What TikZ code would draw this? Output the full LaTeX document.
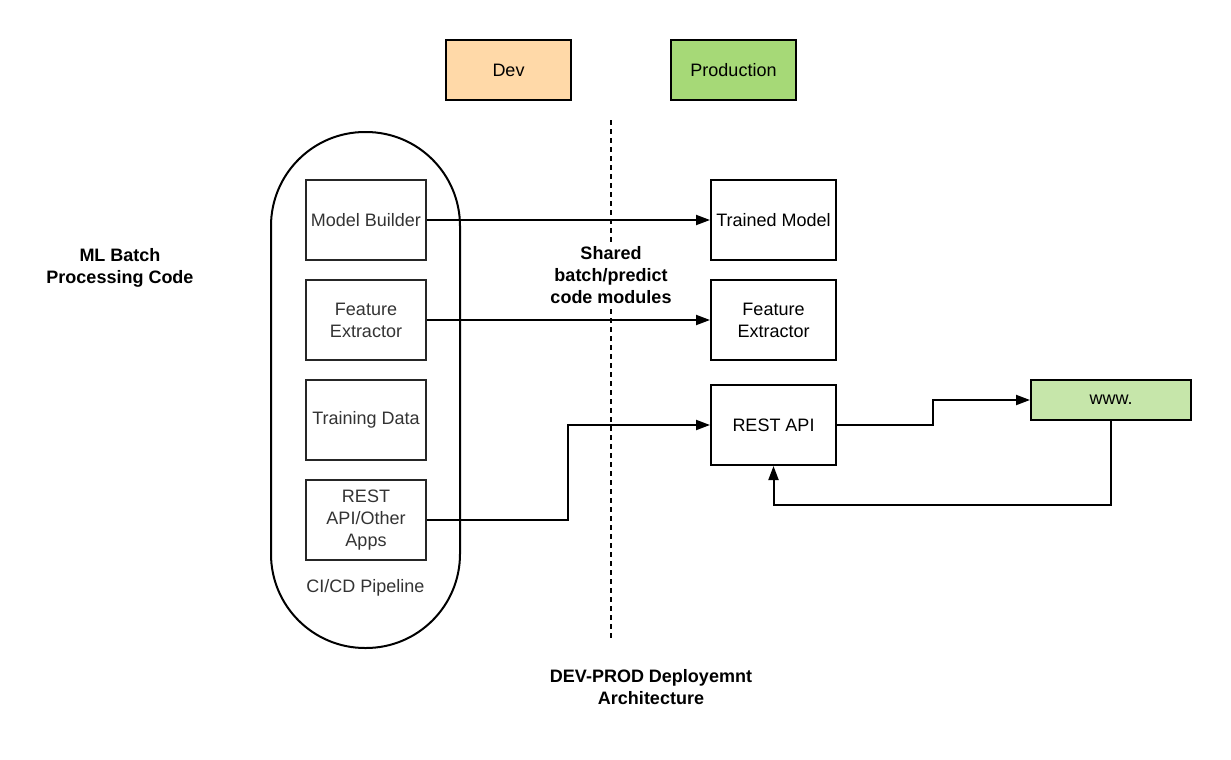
\documentclass[tikz,border=0pt]{standalone}
\usepackage{fontspec}
\setmainfont{Liberation Sans}
\usetikzlibrary{arrows.meta,calc}
\definecolor{devfill}{HTML}{FFD9A8}
\definecolor{prodfill}{HTML}{A6D977}
\definecolor{wwwfill}{HTML}{C6E6AA}
\definecolor{txtgray}{HTML}{333333}
\tikzset{
  txt/.style={font=\fontsize{9pt}{11pt}\selectfont, align=center},
  btxt/.style={font=\fontsize{9pt}{11pt}\selectfont\bfseries, align=center},
  leftbox/.style={txt, draw=black!85, line width=0.75pt, text=txtgray, minimum width=60pt, minimum height=40pt, inner sep=1pt},
  rightbox/.style={txt, draw=black, line width=1pt, minimum width=62.5pt, minimum height=40pt, inner sep=1pt},
  topbox/.style={txt, draw=black, line width=1pt, minimum width=62.5pt, minimum height=30pt},
  conn/.style={line width=1pt, -{Triangle[length=7pt,width=5pt]}},
}
\begin{document}
\begin{tikzpicture}[x=0.5pt, y=-0.5pt]
\useasboundingbox (0,0) rectangle (1231,760);
% header boxes
\node[topbox, fill=devfill] (dev) at (508.5,70) {Dev};
\node[topbox, fill=prodfill] (prod) at (733.5,70) {Production};
% dashed divider
\coordinate (d1) at (611,120);
\coordinate (d2) at (611,640);
\draw[line width=0.9pt, dash pattern=on 2.5pt off 2pt] (d1) -- (d2);
% pipeline stadium
\node[draw=black, line width=1pt, minimum width=94.5pt, minimum height=258pt, rounded corners=47pt] (pipe) at (365.5,390) {};
\node[txt, text=txtgray] (cicd) at (365.5,588) {CI/CD Pipeline};
% left boxes
\node[leftbox] (mb) at (366,220) {Model Builder};
\node[leftbox] (fe1) at (366,320) {Feature\\Extractor};
\node[leftbox] (td) at (366,420) {Training Data};
\node[leftbox] (rest1) at (366,520) {REST\\API/Other\\Apps};
% right boxes
\node[rightbox] (tm) at (773.5,220) {Trained Model};
\node[rightbox] (fe2) at (773.5,320) {Feature\\Extractor};
\node[rightbox] (rest2) at (773.5,425) {REST API};
\node[txt, draw=black, line width=1pt, fill=wwwfill, minimum width=80pt, minimum height=20pt] (www) at (1111,400) {www.};
% labels
\node[btxt, fill=white, inner sep=1pt] (shared) at (611,275) {Shared\\batch/predict\\code modules};
\node[btxt] (ml) at (120,267.5) {ML Batch\\Processing Code};
\node[btxt] (title) at (651,687.5) {DEV-PROD Deployemnt\\Architecture};
% connectors
\draw[conn] (mb.east) -- (tm.west);
\draw[conn] (fe1.east) -- (fe2.west);
\coordinate (j1) at (568,520);
\draw[conn] (rest1.east) -- (j1) |- (rest2.west);
\coordinate (j2) at (933,425);
\draw[conn] (rest2.east) -- (j2) |- (www.west);
\coordinate (j3) at (1111,505);
\draw[conn] (www.south) -- (j3) -| (rest2.south);
\end{tikzpicture}
\end{document}
